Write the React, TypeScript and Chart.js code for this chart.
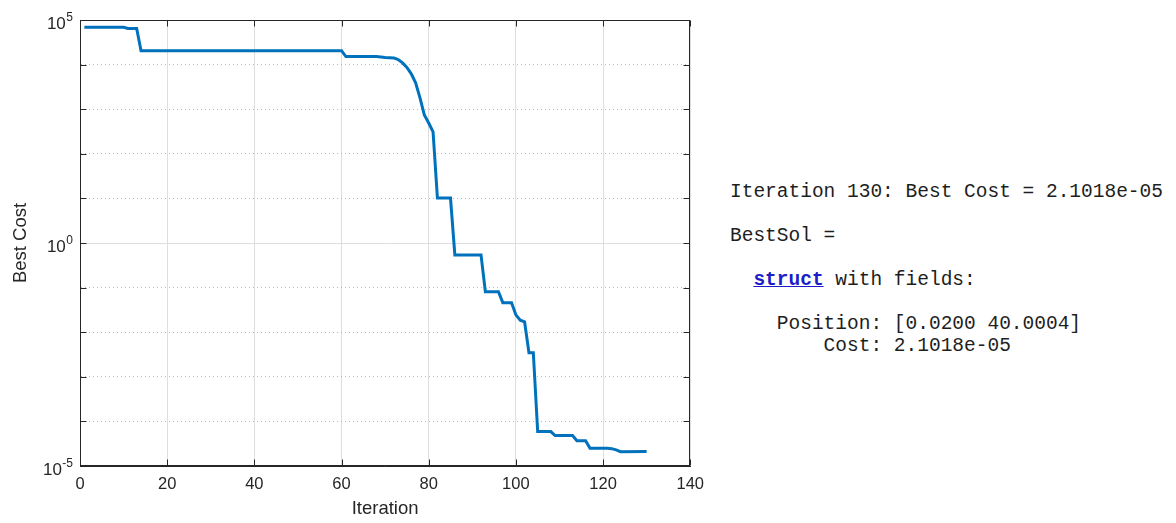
import React, { useEffect, useRef } from 'react';
import { Chart, registerables } from 'chart.js';

Chart.register(...registerables);

// Best cost per iteration (breakpoints)
const iterations = [1, 10, 11, 13, 14, 60, 61, 68, 70, 72, 73, 74, 75, 76, 77, 78, 79, 80, 81, 82, 85, 86, 92, 93, 96, 97, 99, 100, 101, 102, 103, 104, 105, 108, 109, 113, 114, 116, 117, 121, 122, 123, 124, 130];
const bestCost = [6.85e4, 6.85e4, 6.46e4, 6.46e4, 2.05e4, 2.05e4, 1.51e4, 1.51e4, 1.45e4, 1.41e4, 1.3e4, 1.09e4, 8.6e3, 6.2e3, 3.9e3, 1.8e3, 740, 490, 310, 10.2, 10.2, 0.54, 0.54, 0.081, 0.081, 0.046, 0.046, 0.0245, 0.0186, 0.017, 0.00347, 0.00347, 5.9e-5, 5.9e-5, 4.8e-5, 4.8e-5, 3.7e-5, 3.7e-5, 2.5e-5, 2.5e-5, 2.45e-5, 2.3e-5, 2.1e-5, 2.1018e-5];

const xTicks = [0, 20, 40, 60, 80, 100, 120, 140];
const yDecades = [1e-5, 1e-4, 1e-3, 1e-2, 1e-1, 1, 1e1, 1e2, 1e3, 1e4, 1e5];
const yLabelValues = [1e-5, 1, 1e5];

const consoleLines = [
  'Iteration 130: Best Cost = 2.1018e-05',
  '',
  'BestSol =',
  '',
  '  ', // struct line handled specially
  '',
  '    Position: [0.0200 40.0004]',
  '        Cost: 2.1018e-05',
];

const FONT = '"Liberation Sans", Arial, Helvetica, sans-serif';
const AXIS = '#262626';

const framePlugin = {
  id: 'matlabFrame',
  afterDraw(chart: any) {
    const { ctx, chartArea: a, scales } = chart;
    const x = scales.x;
    const y = scales.y;
    ctx.save();
    ctx.strokeStyle = AXIS;
    ctx.lineWidth = 1;
    const L = Math.round(a.left) + 0.5;
    const R = Math.round(a.right) - 0.5;
    const T = Math.round(a.top) + 0.5;
    const B = Math.round(a.bottom) - 0.5;
    ctx.strokeRect(L, T, R - L, B - T);
    const tl = 6;
    ctx.beginPath();
    xTicks.forEach((v) => {
      const px = Math.round(x.getPixelForValue(v)) + 0.5;
      ctx.moveTo(px, B);
      ctx.lineTo(px, B - tl);
      ctx.moveTo(px, T);
      ctx.lineTo(px, T + tl);
    });
    yDecades.forEach((v) => {
      const py = Math.round(y.getPixelForValue(v)) + 0.5;
      ctx.moveTo(L, py);
      ctx.lineTo(L + tl, py);
      ctx.moveTo(R, py);
      ctx.lineTo(R - tl, py);
    });
    ctx.stroke();

    // y tick labels with superscript exponents
    ctx.fillStyle = AXIS;
    const rightEdge = a.left - 7;
    yLabelValues.forEach((v) => {
      const py = y.getPixelForValue(v);
      const exp = String(Math.round(Math.log10(v)));
      ctx.font = `12px ${FONT}`;
      const we = ctx.measureText(exp).width;
      ctx.textAlign = 'left';
      ctx.textBaseline = 'alphabetic';
      ctx.fillText(exp, rightEdge - we, py + 1);
      ctx.font = `17px ${FONT}`;
      ctx.textAlign = 'right';
      ctx.fillText('10', rightEdge - we - 0.5, py + 9);
    });
    ctx.restore();
  },
};

export default function App() {
  const canvasRef = useRef<HTMLCanvasElement | null>(null);

  useEffect(() => {
    const canvas = canvasRef.current;
    if (!canvas) return;
    const data = iterations.map((it, i) => ({ x: it, y: bestCost[i] }));
    const chart = new Chart(canvas, {
      type: 'line',
      data: {
        datasets: [
          {
            label: 'Best Cost',
            data,
            borderColor: '#0072BD',
            backgroundColor: '#0072BD',
            borderWidth: 3,
            pointRadius: 0,
            tension: 0,
            fill: false,
          },
        ],
      },
      options: {
        responsive: false,
        animation: false,
        events: [],
        layout: { padding: { left: 0, top: 20, right: 17, bottom: 0 } },
        plugins: {
          legend: { display: false },
          tooltip: { enabled: false },
          title: { display: false },
        },
        scales: {
          x: {
            type: 'linear',
            min: 0,
            max: 140,
            afterBuildTicks: (scale: any) => {
              scale.ticks = xTicks.map((v) => ({ value: v }));
            },
            afterFit: (scale: any) => {
              scale.height = 57;
            },
            ticks: {
              color: AXIS,
              font: { family: FONT, size: 16.5 },
              padding: 9,
              maxRotation: 0,
              autoSkip: false,
            },
            grid: {
              color: '#dedede',
              lineWidth: 1,
              drawTicks: false,
            },
            border: { display: true, color: AXIS, width: 1 },
            title: {
              display: true,
              text: 'Iteration',
              color: AXIS,
              font: { family: FONT, size: 18.5 },
              padding: { top: 0, bottom: 3 },
            },
          },
          y: {
            type: 'logarithmic',
            min: 1e-5,
            max: 1e5,
            afterBuildTicks: (scale: any) => {
              scale.ticks = yDecades.map((v) => ({ value: v }));
            },
            afterFit: (scale: any) => {
              scale.width = 80;
            },
            ticks: { display: false },
            grid: {
              color: (ctx: any) => (ctx.tick && ctx.tick.value === 1 ? '#dedede' : '#b8b8b8'),
              lineWidth: 1,
              drawTicks: false,
            },
            border: {
              display: true,
              color: AXIS,
              width: 1,
              dash: (ctx: any) => (ctx.tick && ctx.tick.value === 1 ? [] : [1, 3]),
            } as any,
            title: {
              display: true,
              text: 'Best Cost',
              color: AXIS,
              font: { family: FONT, size: 18.5 },
              padding: { top: 10, bottom: 0 },
            },
          },
        },
      },
      plugins: [framePlugin],
    } as any);
    return () => chart.destroy();
  }, []);

  const mono = '"Liberation Mono", "Courier New", monospace';

  return (
    <div>
      <div style={{ position: 'absolute', left: 0, top: 0, width: 713, height: 523 }}>
        <canvas ref={canvasRef} width={713} height={523} style={{ display: 'block' }} />
      </div>
      <pre
        style={{
          position: 'absolute',
          left: 730,
          top: 181,
          margin: 0,
          fontFamily: mono,
          fontSize: '19.5px',
          lineHeight: '22px',
          color: '#1e1e1e',
          whiteSpace: 'pre',
        }}
      >
        {consoleLines.map((line, i) =>
          i === 4 ? (
            <div key={i}>
              {'  '}
              <span style={{ color: '#1c1cc8', fontWeight: 'bold', textDecoration: 'underline' }}>struct</span>
              {' with fields:'}
            </div>
          ) : (
            <div key={i}>{line === '' ? '\u00a0' : line}</div>
          )
        )}
      </pre>
    </div>
  );
}
